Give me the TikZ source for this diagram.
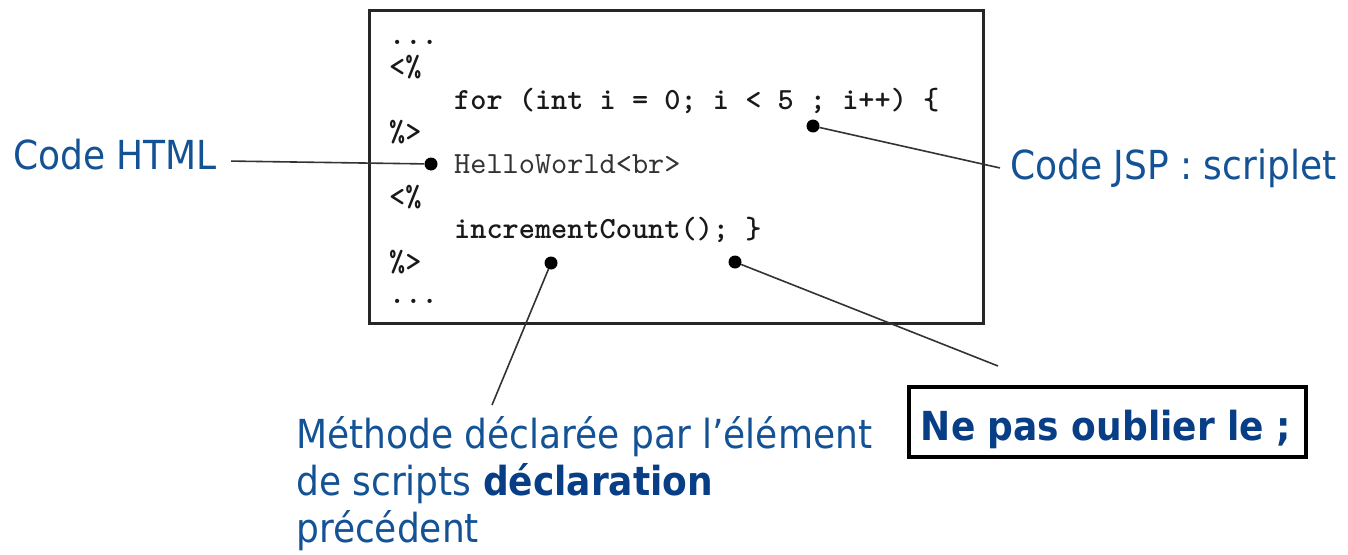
\documentclass[tikz,border=0pt]{standalone}
\usepackage{fontspec}
\newfontfamily\labfont{DejaVu Sans Condensed}
\newfontfamily\codefont{lmmono10-regular.otf}[BoldFont=lmmonolt10-bold.otf]
\definecolor{labblue}{RGB}{20,82,150}
\definecolor{boldblue}{RGB}{8,62,134}
\begin{document}
\begin{tikzpicture}[x=1pt,y=-1pt,
  codeline/.style={anchor=base west,inner sep=0pt,text=black!90,
    font=\codefont\fontsize{30.8}{32}\selectfont\bfseries},
  codeplain/.style={anchor=base west,inner sep=0pt,text=black!80,
    font=\codefont\fontsize{30.8}{32}\selectfont},
  lbl/.style={anchor=base west,inner sep=0pt,text=labblue,
    font=\labfont\fontsize{40}{47}\selectfont},
  dotmark/.style={circle,fill=black,inner sep=0pt,minimum size=13pt},
  conn/.style={draw=black!80,line width=1.6pt},
  codeframe/.style={draw=black!85,line width=2.5pt,inner sep=0pt,
    minimum width=614pt,minimum height=313pt,anchor=north west},
  notebox/.style={draw=black,line width=4pt,inner sep=0pt,
    minimum width=397pt,minimum height=70pt},
  notetext/.style={anchor=base,inner sep=0pt,text=boldblue,
    font=\labfont\fontsize{40}{47}\selectfont\bfseries}]
\useasboundingbox (0,0) rectangle (1348,554);

% code box
\node[codeframe] (box) at (368,9) {};
\node[codeline] (c1) at (389,44) {...};
\node[codeline] (c2) at (389,76) {<\%};
\node[codeline] (c3) at (454,109) {for (int i = 0; i < 5 ; i++) \{};
\node[codeline] (c4) at (389,141) {\%>};
\node[codeplain] (c5) at (454,173) {HelloWorld<br>};
\node[codeline] (c6) at (389,206) {<\%};
\node[codeline] (c7) at (454,238) {incrementCount(); \}};
\node[codeline] (c8) at (389,271) {\%>};
\node[codeline] (c9) at (389,303) {...};

% dots
\node[dotmark] (dJ) at (813,126) {};
\node[dotmark] (dH) at (431,164) {};
\node[dotmark] (dM) at (551,263) {};
\node[dotmark] (dN) at (735,262) {};

% labels
\node[lbl] (html) at (13,169) {Code HTML};
\node[lbl] (jsp) at (1010,179) {Code JSP : scriplet};
\node[lbl] (m1) at (296,448) {Méthode déclarée par l’élément};
\node[lbl] (m2) at (296,495) {de scripts {\bfseries\color{boldblue}déclaration}};
\node[lbl] (m3) at (296,542) {précédent};

% note box
\node[notebox] (nbox) at (1107.5,422) {};
\node[notetext] (ntext) at (1106,440) {Ne pas oublier le ;};

% free ends
\coordinate (nend) at (998,366);
\coordinate (mend) at (492,405);

% connectors
\draw[conn] ([xshift=14pt,yshift=-7pt]html.east) -- (dH);
\draw[conn] (dJ) -- ([xshift=-10pt]jsp.west);
\draw[conn] (dN) -- (nend);
\draw[conn] (dM) -- (mend);
\end{tikzpicture}
\end{document}
